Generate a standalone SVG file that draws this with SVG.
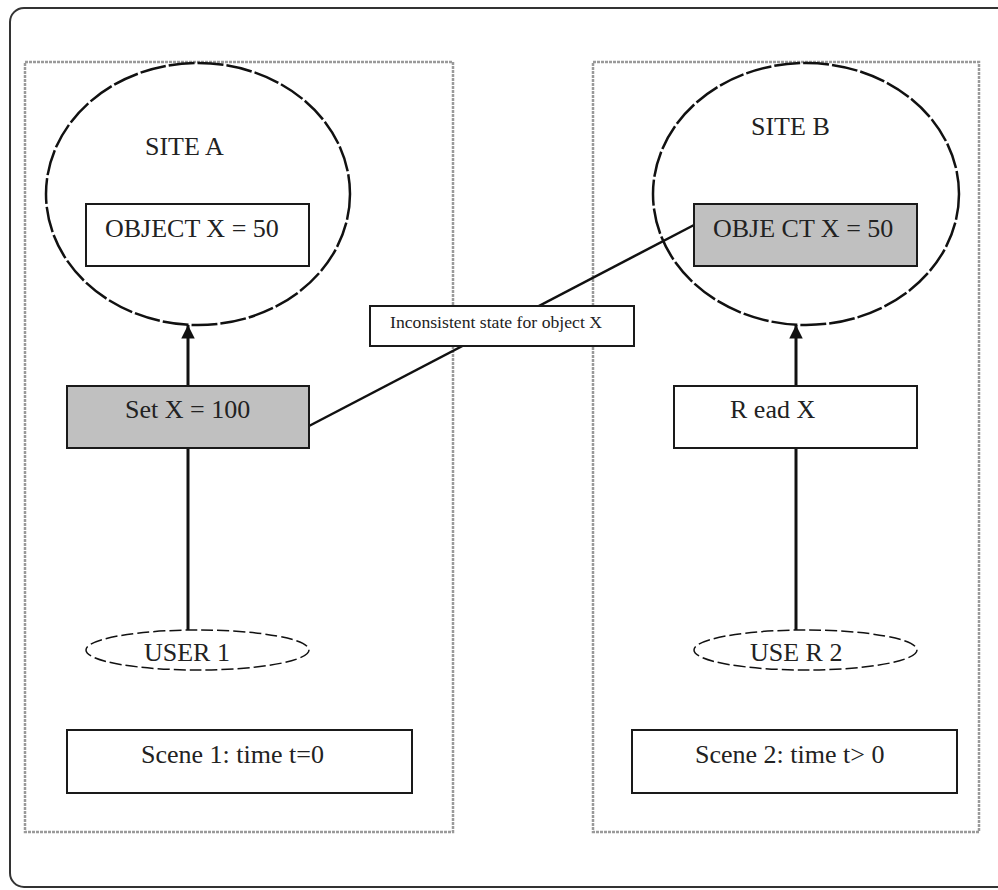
<svg xmlns="http://www.w3.org/2000/svg" width="998" height="890" viewBox="0 0 998 890">
<defs>
<style>
.t{font-family:"Liberation Serif","Times New Roman",serif;font-size:26px;fill:#222}
.box{fill:#fff;stroke:#1a1a1a;stroke-width:2}
.gray{fill:#c0c0c0;stroke:#1a1a1a;stroke-width:2}
.site{fill:none;stroke:#111;stroke-width:2.5;stroke-dasharray:26 3}
.user{fill:#fff;stroke:#111;stroke-width:1.5;stroke-dasharray:12 4}
.panel{fill:none;stroke:#9a9a9a;stroke-width:2.5;stroke-dasharray:3 1}
.conn{stroke:#111;stroke-width:3;fill:none}
</style>
<marker id="arr" viewBox="0 0 10 10" refX="10" refY="5" markerWidth="4.5" markerHeight="4.5" orient="auto" markerUnits="strokeWidth">
<path d="M0,0 L10,5 L0,10 Z" fill="#111"/>
</marker>
</defs>
<rect width="998" height="890" fill="#fff"/>
<rect id="frame" x="10" y="8" width="1010" height="879" rx="14" ry="14" fill="none" stroke="#333" stroke-width="2"/>
<g id="panel-scene1"><rect class="panel" x="25" y="62" width="428" height="770"/></g>
<g id="panel-scene2"><rect class="panel" x="593" y="62" width="386" height="770"/></g>

<g id="connectors">
<line class="conn" x1="188" y1="386" x2="188" y2="325" marker-end="url(#arr)"/>
<line class="conn" x1="188" y1="448" x2="188" y2="630"/>
<line class="conn" x1="796" y1="386" x2="796" y2="325" marker-end="url(#arr)"/>
<line class="conn" x1="796" y1="448" x2="796" y2="630"/>
<line stroke="#111" stroke-width="2.5" x1="309" y1="426" x2="694" y2="225"/>
</g>

<g id="site-a"><ellipse class="site" cx="198" cy="194" rx="152" ry="131"/><text class="t" x="145" y="155">SITE A</text></g>
<g id="site-b"><ellipse class="site" cx="806" cy="194" rx="153" ry="131"/><text class="t" x="751" y="135">SITE B</text></g>
<g id="object-a"><rect class="box" x="86" y="204" width="223" height="62"/><text class="t" x="105" y="237">OBJECT  X = 50</text></g>
<g id="object-b"><rect class="gray" x="694" y="204" width="223" height="62"/><text class="t" x="713" y="237">OBJE CT X = 50</text></g>
<g id="set-x"><rect class="gray" x="67" y="386" width="242" height="62"/><text class="t" x="125" y="418">Set X = 100</text></g>
<g id="read-x"><rect class="box" x="674" y="386" width="243" height="62"/><text class="t" x="730" y="418">R ead X</text></g>
<g id="label"><rect class="box" x="370" y="306" width="264" height="40"/><text x="390" y="328" font-family="Liberation Serif, serif" font-size="17" fill="#222" textLength="212" lengthAdjust="spacingAndGlyphs">Inconsistent state for object X</text></g>
<g id="user-1"><ellipse class="user" cx="197.5" cy="650" rx="111.5" ry="20"/><text class="t" x="144" y="661">USER 1</text></g>
<g id="user-2"><ellipse class="user" cx="805.5" cy="650" rx="111.5" ry="20"/><text class="t" x="750" y="661">USE R 2</text></g>
<g id="scene-1"><rect class="box" x="67" y="730" width="345" height="63"/><text class="t" x="141" y="763">Scene 1: time t=0</text></g>
<g id="scene-2"><rect class="box" x="632" y="730" width="325" height="63"/><text class="t" x="695" y="763">Scene 2: time t&gt; 0</text></g>
</svg>
